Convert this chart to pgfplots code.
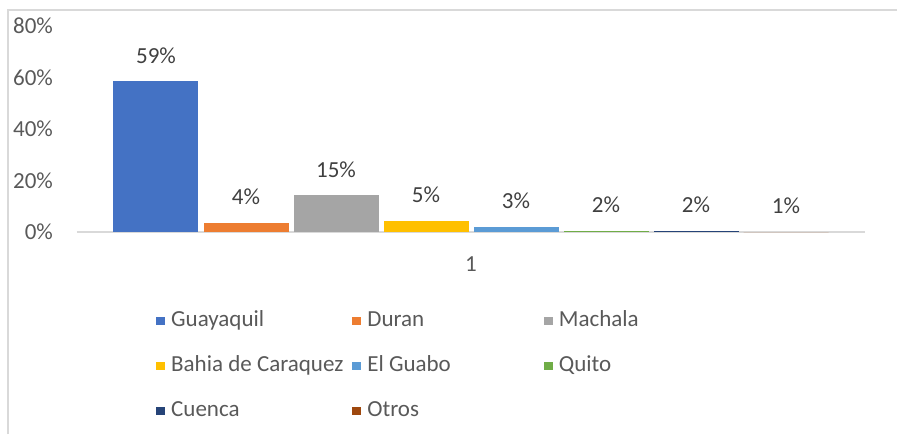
\documentclass[border=0pt]{standalone}
\usepackage{pgfplots}
\pgfplotsset{compat=1.18}
\usepackage{fontspec}
\setmainfont{Carlito}
\definecolor{c1}{HTML}{4472C4}
\definecolor{c2}{HTML}{ED7D31}
\definecolor{c3}{HTML}{A5A5A5}
\definecolor{c4}{HTML}{FFC000}
\definecolor{c5}{HTML}{5B9BD5}
\definecolor{c6}{HTML}{70AD47}
\definecolor{c7}{HTML}{264478}
\definecolor{c8}{HTML}{9E480E}
\definecolor{txt}{HTML}{595959}
\definecolor{lbl}{HTML}{404040}
\definecolor{grid}{HTML}{D9D9D9}
\begin{document}
\begin{tikzpicture}
\useasboundingbox (-38.5pt,116pt) rectangle (410pt,-101pt);
\draw[grid, line width=1pt] (-34.5pt,-101pt) -- (-34.5pt,111pt) -- (410pt,111pt);
\begin{axis}[
  scale only axis,
  width=394pt, height=103pt,
  at={(0pt,0pt)}, anchor=south west,
  xmin=0.5, xmax=1.5, ymin=0, ymax=80,
  enlargelimits=false,
  ybar=2.5pt, bar width=42.5pt,
  xtick={1}, ytick={0,20,40,60,80},
  yticklabel={\pgfmathprintnumber{\tick}\%},
  /pgf/number format/assume math mode=true,
  major tick length=0pt,
  axis x line*=bottom, axis y line*=left,
  x axis line style={draw=grid, line width=1pt},
  y axis line style={draw=none},
  tick label style={font=\fontsize{11.5}{13}\selectfont, text=txt},
  yticklabel style={anchor=east, xshift=-8.5pt},
  xticklabel style={anchor=center, yshift=-16pt},
  nodes near coords,
  point meta=explicit symbolic,
  every node near coord/.append style={font=\fontsize{11.5}{13}\selectfont, text=lbl, anchor=center, yshift=13pt},
  legend columns=3,
  legend cell align=left,
  legend image code/.code={\fill[#1] (0pt,-2.2pt) rectangle (4.5pt,2.2pt);},
  legend style={draw=none, fill=none, inner sep=0pt,
    at={(0.1,-0.35)}, anchor=north west,
    font=\fontsize{11.5}{13}\selectfont, text=txt,
    nodes={text height=8pt, text depth=2.5pt, inner sep=3pt},
    /tikz/row sep=6pt,
    /tikz/column 2/.style={column sep=1.5pt},
    /tikz/column 4/.style={column sep=43.5pt}},
]
\addplot[fill=c1, draw=none] coordinates {(1,58.5) [59\%]};
\addplot[fill=c2, draw=none] coordinates {(1,3.4) [4\%]};
\addplot[fill=c3, draw=none] coordinates {(1,14.2) [15\%]};
\addplot[fill=c4, draw=none] coordinates {(1,4.2) [5\%]};
\addplot[fill=c5, draw=none] coordinates {(1,2.0) [3\%]};
\addplot[fill=c6, draw=none] coordinates {(1,0.5) [2\%]};
\addplot[fill=c7, draw=none] coordinates {(1,0.5) [2\%]};
\addplot[fill=c8, draw=none] coordinates {(1,0) [1\%]};
\legend{Guayaquil,Duran,Machala,Bahia de Caraquez,El Guabo,Quito,Cuenca,Otros}
\end{axis}
\end{tikzpicture}
\end{document}
